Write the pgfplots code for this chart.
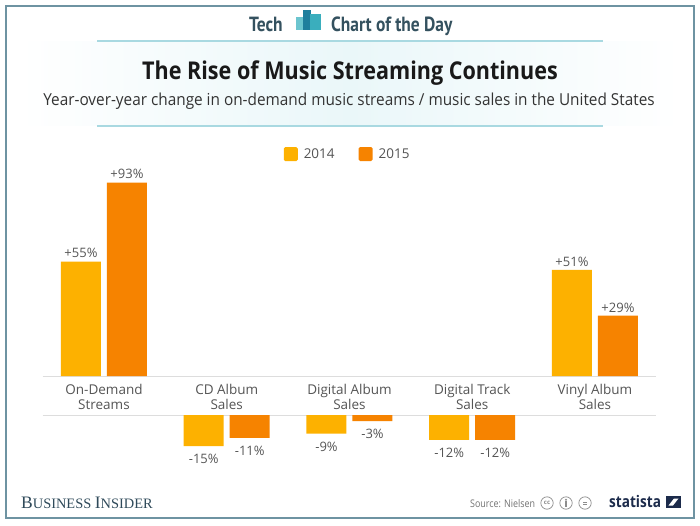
\documentclass[border=0pt]{standalone}
\usepackage{fontspec}
\setmainfont{Open Sans}
\newfontfamily\titlefont{Open Sans}[FakeStretch=0.88]
\newfontfamily\subfont{Open Sans}[FakeStretch=0.93]
\newfontfamily\condfont{Open Sans}[FakeStretch=0.85]
\newfontfamily\headfont{PT Sans Bold}[FakeStretch=0.85]
\newfontfamily\bifont{Liberation Serif}
\usepackage{pgfplots}
\pgfplotsset{compat=1.18}
\definecolor{cA}{HTML}{FDB100}
\definecolor{cB}{HTML}{F68300}
\definecolor{frm}{HTML}{6E93A2}
\definecolor{headtxt}{HTML}{34515F}
\definecolor{band}{HTML}{EAF7F9}
\definecolor{bandline}{HTML}{A9D9E1}
\definecolor{lbl}{HTML}{555555}
\definecolor{gridc}{HTML}{DDDDDD}
\definecolor{navy}{HTML}{1C2B4B}
\definecolor{bitxt}{HTML}{2F4A5A}
\definecolor{iconA}{HTML}{6CC5CF}
\definecolor{iconB}{HTML}{1F7F9D}
\definecolor{iconC}{HTML}{3AAEBD}

\pgfplotstableread{
x y
0 55
4 51
}\posA
\pgfplotstableread{
x y
0 93
4 29
}\posB
\pgfplotstableread{
x y
1 -15
2 -9
3 -12
}\negA
\pgfplotstableread{
x y
1 -11
2 -3
3 -12
}\negB

\begin{document}
\begin{tikzpicture}[x=1pt,y=1pt]
\useasboundingbox (0,0) rectangle (700,525);
\fill[white] (0,0) rectangle (700,525);
% header band
\shade[left color=white, right color=white, middle color=band] (20,399) rectangle (680,483);
\draw[bandline, line width=1.5] (97,484) -- (603,484);
\draw[bandline, line width=1.5] (97,399) -- (603,399);
% header
\node[anchor=base west, inner sep=0, text=headtxt, font=\headfont\fontsize{20.5}{24}\selectfont] at (249,493) {Tech};
\fill[iconA] (296,495) rectangle (304,508);
\fill[iconB] (303,495) rectangle (311,515);
\fill[iconC] (310,495) rectangle (321,511);
\node[anchor=base west, inner sep=0, text=headtxt, font=\headfont\fontsize{20.5}{24}\selectfont] at (331,493) {Chart of the Day};
% title
\node[anchor=base, inner sep=0, text=black!90, font=\titlefont\bfseries\fontsize{24.5}{28}\selectfont] at (350,445) {The Rise of Music Streaming Continues};
\node[anchor=base, inner sep=0, text=black!80, font=\subfont\fontsize{16.5}{19}\selectfont] at (349,419) {Year-over-year change in on-demand music streams / music sales in the United States};

% upper axis (positive values)
\begin{axis}[at={(42.6pt,149pt)}, anchor=south west, scale only axis,
  width=613.75pt, height=208pt, xmin=-0.5, xmax=4.5, ymin=0, ymax=100,
  clip=false, axis x line*=bottom, axis y line=none,
  x axis line style={gridc, line width=1pt},
  xtick={0,1,2,3,4}, major tick length=0pt,
  xticklabels={On-Demand\\Streams, CD Album\\Sales, Digital Album\\Sales, Digital Track\\Sales, Vinyl Album\\Sales},
  xticklabel style={align=center, text=lbl, font=\fontsize{13.5}{15}\selectfont, yshift=-4.5pt},
  ybar=6pt, bar width=40pt,
  nodes near coords={+\pgfmathprintnumber[assume math mode=true]{\pgfplotspointmeta}\%},
  every node near coord/.append style={text=lbl, font=\fontsize{13}{15}\selectfont},
  legend columns=2,
  legend style={at={(0.497,1.067)}, anchor=center, draw=none, fill=none,
    font=\fontsize{13.5}{15}\selectfont, text=lbl,
    /tikz/every even column/.append style={column sep=22pt}},
  legend image code/.code={\fill[#1, rounded corners=1.5pt] (0pt,-7pt) rectangle (14pt,7pt); \path (18pt,0pt);},
]
\addplot[fill=cA, draw=none] table[x=x,y=y] {\posA};
\addplot[fill=cB, draw=none] table[x=x,y=y] {\posB};
\legend{2014,2015}
\end{axis}

% lower axis (negative values)
\begin{axis}[at={(42.6pt,68.4pt)}, anchor=south west, scale only axis,
  width=613.75pt, height=41.6pt, xmin=-0.5, xmax=4.5, ymin=-20, ymax=0,
  clip=false, axis x line*=top, axis y line=none,
  x axis line style={gridc, line width=1pt},
  xtick=\empty,
  ybar=6pt, bar width=40pt,
  nodes near coords={\pgfmathprintnumber[assume math mode=true]{\pgfplotspointmeta}\%},
  every node near coord/.append style={text=lbl, font=\fontsize{13}{15}\selectfont, yshift=-4.5pt},
]
\addplot[fill=cA, draw=none] table[x=x,y=y] {\negA};
\addplot[fill=cB, draw=none] table[x=x,y=y] {\negB};
\end{axis}

% footer
\node[anchor=base west, inner sep=0, text=bitxt, font=\bifont] at (21,17)
  {\fontsize{17.5}{19}\selectfont B\fontsize{14.4}{16}\selectfont USINESS \fontsize{17.5}{19}\selectfont I\fontsize{14.4}{16}\selectfont NSIDER};
\node[anchor=base west, inner sep=0, text=black!55, font=\condfont\fontsize{10.5}{12}\selectfont] at (470,18) {Source: Nielsen};
\foreach \cx in {547, 566, 585} {
  \draw[black!45, line width=0.7] (\cx,22) circle (6.2);
}
\node[text=black!45, inner sep=0, font=\fontsize{6}{6}\selectfont\bfseries] at (547,22) {cc};
\fill[black!45] (566,25.2) circle (1.1);
\fill[black!45] (564.8,17.8) rectangle (567.2,23.6);
\draw[black!45, line width=0.8] (583,21) -- (587,21) (583,23) -- (587,23);
\node[anchor=base west, inner sep=0, text=navy, font=\condfont\bfseries\fontsize{16}{18}\selectfont] at (609,18) {statista};
\fill[navy] (666,17) rectangle (681,29);
\fill[white] (668.5,19.5) -- (673,19.5) -- (678.5,26.5) -- (674,26.5) -- cycle;
% frame
\draw[frm, line width=2.5] (6,7) rectangle (694,519);
\end{tikzpicture}
\end{document}
